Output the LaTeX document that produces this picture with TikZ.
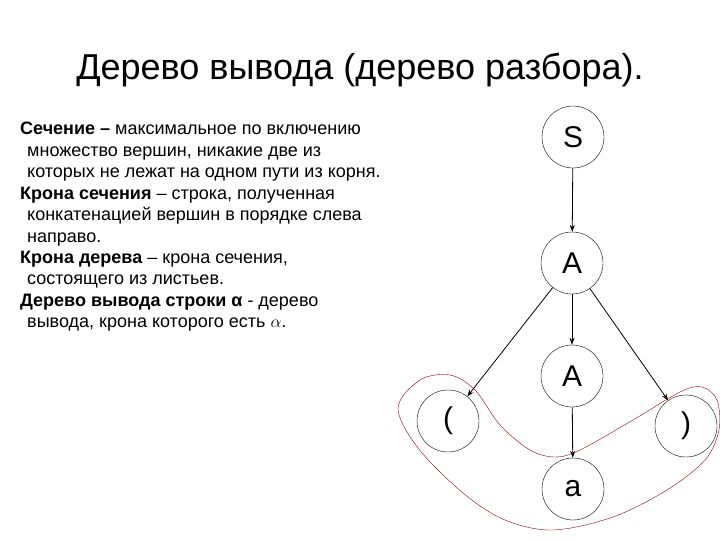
\documentclass[tikz,border=0pt]{standalone}
\usepackage{fontspec}
\setmainfont{Liberation Sans}
\usetikzlibrary{arrows.meta}
\tikzset{
    vertex/.style={draw, circle, minimum size=62pt, inner sep=0pt, font=\fontsize{30}{30}\selectfont},
    edge/.style={-{Stealth[length=7pt, width=5pt]}, thick},
    cutline/.style={draw=red!60!black, thin}
}
\begin{document}
\begin{tikzpicture}[x=1pt, y=-1pt]
    \useasboundingbox (0, 0) rectangle (720, 540);
    \node (title) at (360, 70) {\fontsize{36}{36}\selectfont Дерево вывода (дерево разбора).};
    \node[anchor=north west, inner sep=0pt, align=left, font=\fontsize{18}{21.45}\selectfont] (defs) at (20, 122)
        {\textbf{Сечение –} максимальное по включению\\
         \hspace*{7pt}множество вершин, никакие две из\\
         \hspace*{7pt}которых не лежат на одном пути из корня.\\
         \textbf{Крона сечения} – строка, полученная\\
         \hspace*{7pt}конкатенацией вершин в порядке слева\\
         \hspace*{7pt}направо.\\
         \textbf{Крона дерева} – крона сечения,\\
         \hspace*{7pt}состоящего из листьев.\\
         \textbf{Дерево вывода строки α} - дерево\\
         \hspace*{7pt}вывода, крона которого есть $\alpha$.};

    \node[vertex] (S)  at (573, 137) {S};
    \node[vertex] (A)  at (572, 263) {A};
    \node[vertex] (A2) at (572, 376) {A};
    \node[vertex] (lp) at (448, 421) {(};
    \node[vertex] (rp) at (686, 426) {)};
    \node[vertex] (a)  at (573, 489) {a};

    \draw[edge] (S) -- (A);
    \draw[edge] (A) -- (A2);
    \draw[edge] (A) -- (lp);
    \draw[edge] (A) -- (rp);
    \draw[edge] (A2) -- (a);

    % the section ( a )
    \draw[cutline] plot[smooth cycle, tension=0.55] coordinates {
        (398, 408) (420, 380) (450, 375) (475, 390) (500, 425) (530, 450)
        (555, 457) (580, 450) (633, 420) (680, 392) (702, 387) (717, 400)
        (719, 430) (705, 460) (667, 490) (613, 517) (553, 530) (505, 520)
        (463, 493) (418, 448)};
\end{tikzpicture}
\end{document}
